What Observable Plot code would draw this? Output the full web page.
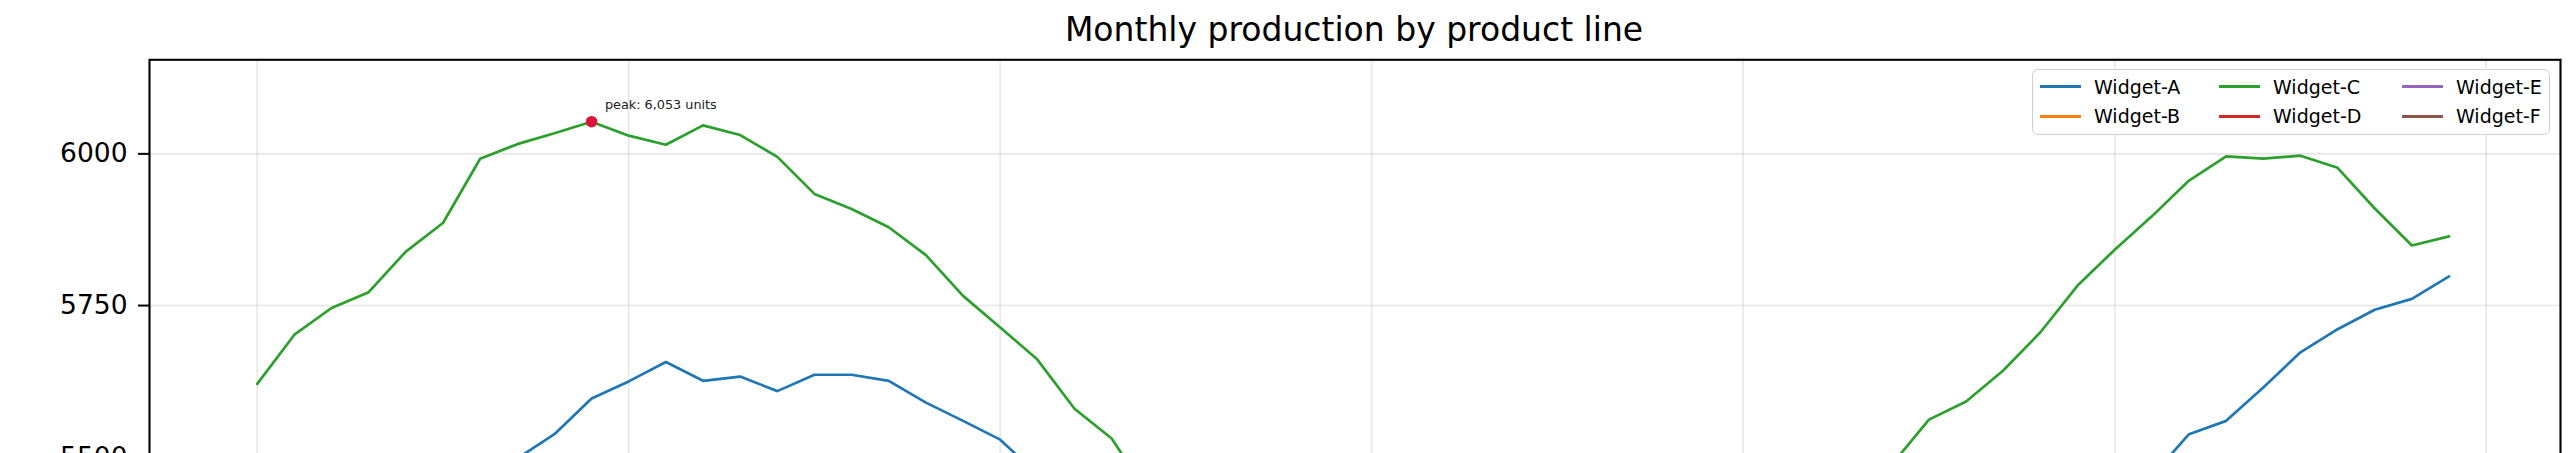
<!DOCTYPE html>
<html>
<head>
<meta charset="utf-8">
<script src="https://cdn.jsdelivr.net/npm/d3@7"></script>
<script src="https://cdn.jsdelivr.net/npm/@observablehq/plot@0.6"></script>
<style>
  html, body { margin: 0; padding: 0; background: #fff; overflow: hidden; }
  body { width: 2576px; height: 453px; position: relative; font-family: "DejaVu Sans", sans-serif; }
  #title { height: 50px; box-sizing: border-box; padding-top: 11px; line-height: 38px; font-size: 33px; color: #000; text-align: center; width: 2576px; padding-left: 132px; }
  #chart svg { display: block; }
  #legend { position: absolute; left: 2032px; top: 69px; width: 518px; height: 66px; box-sizing: border-box; border: 1.6px solid #cfcfcf; border-radius: 6px; background: rgba(255,255,255,0.85); }
  .lh { position: absolute; width: 41px; height: 2.7px; }
  .lt { position: absolute; font-size: 19px; line-height: 19px; color: #000; white-space: nowrap; }
</style>
</head>
<body>
<div id="title">Monthly production by product line</div>
<div id="chart"></div>
<div id="legend"></div>
<script>
// ---- data ----
const seriesNames = ["Widget-A", "Widget-B", "Widget-C", "Widget-D", "Widget-E", "Widget-F"];
const seriesColors = ["#1f77b4", "#ff7f0e", "#2ca02c", "#d62728", "#9467bd", "#8c564b"];
const months = Array.from({length: 60}, (_, i) => i);
const widgetA = [5290, 5310, 5335, 5360, 5400, 5430, 5465, 5498, 5538, 5597,
                 5625, 5657, 5626, 5633, 5609, 5636, 5636, 5626, 5590, 5560,
                 5529, 5472, 5420, 5370, 5315, 5260, 5210, 5170, 5130, 5100,
                 5080, 5065, 5060, 5070, 5085, 5100, 5125, 5150, 5170, 5195,
                 5215, 5240, 5265, 5290, 5310, 5330, 5355, 5375, 5395, 5420,
                 5445, 5469, 5538, 5560, 5615, 5673, 5711, 5743, 5761, 5798];
const widgetB = [4820, 4850, 4880, 4930, 4960, 5010, 5040, 5080, 5100, 5130,
                 5150, 5140, 5160, 5150, 5120, 5100, 5070, 5030, 4990, 4950,
                 4900, 4860, 4820, 4790, 4760, 4740, 4720, 4710, 4705, 4715,
                 4730, 4750, 4780, 4810, 4840, 4880, 4910, 4950, 4980, 5010,
                 5040, 5070, 5090, 5110, 5120, 5130, 5120, 5100, 5080, 5050,
                 5020, 4990, 4960, 4940, 4920, 4900, 4890, 4880, 4870, 4860];
const widgetC = [5621, 5702, 5746, 5772, 5839, 5886, 5992, 6016, 6034, 6053,
                 6030, 6015, 6047, 6031, 5995, 5934, 5909, 5879, 5833, 5766,
                 5714, 5661, 5580, 5531, 5438, 5390, 5330, 5280, 5240, 5205,
                 5180, 5165, 5160, 5170, 5190, 5215, 5245, 5280, 5310, 5345,
                 5380, 5410, 5440, 5465, 5488, 5562, 5592, 5643, 5706, 5783,
                 5842, 5897, 5956, 5996, 5992, 5997, 5977, 5910, 5849, 5864];
const widgetD = [4510, 4530, 4560, 4580, 4600, 4630, 4650, 4660, 4690, 4700,
                 4720, 4710, 4730, 4740, 4720, 4700, 4690, 4660, 4640, 4610,
                 4590, 4570, 4540, 4520, 4500, 4490, 4470, 4460, 4450, 4455,
                 4460, 4470, 4490, 4510, 4530, 4550, 4570, 4590, 4610, 4630,
                 4650, 4670, 4690, 4700, 4720, 4730, 4740, 4735, 4720, 4700,
                 4680, 4660, 4640, 4620, 4600, 4590, 4570, 4560, 4550, 4540];
const widgetE = [4300, 4320, 4310, 4340, 4360, 4350, 4380, 4400, 4390, 4410,
                 4430, 4420, 4440, 4450, 4430, 4410, 4400, 4380, 4370, 4350,
                 4330, 4320, 4300, 4290, 4270, 4260, 4250, 4240, 4235, 4240,
                 4250, 4260, 4280, 4290, 4310, 4330, 4340, 4360, 4370, 4390,
                 4400, 4420, 4430, 4440, 4450, 4460, 4455, 4440, 4430, 4410,
                 4400, 4380, 4370, 4350, 4340, 4330, 4320, 4310, 4300, 4290];
const widgetF = [4120, 4110, 4130, 4140, 4150, 4160, 4170, 4180, 4190, 4200,
                 4210, 4220, 4215, 4230, 4220, 4200, 4190, 4170, 4150, 4130,
                 4110, 4090, 4070, 4050, 4040, 4030, 4020, 4013, 4020, 4030,
                 4040, 4060, 4080, 4100, 4120, 4140, 4160, 4180, 4190, 4200,
                 4210, 4220, 4230, 4240, 4250, 4255, 4250, 4240, 4230, 4220,
                 4210, 4200, 4190, 4180, 4170, 4160, 4150, 4140, 4130, 4120];
const xTicks = [0, 10, 20, 30, 40, 50, 60];
const yGridTicks = [4000, 4250, 4500, 4750, 5000, 5250, 5500, 5750, 6000];
const yLabelTicks = [5500, 5750, 6000];

// ---- build table ----
const seriesValues = [widgetA, widgetB, widgetC, widgetD, widgetE, widgetF];
const rows = [];
seriesNames.forEach((name, s) => {
  months.forEach((m, i) => rows.push({series: name, month: m, value: seriesValues[s][i]}));
});
const peakIdx = d3.maxIndex(widgetC);
const peak = [{series: "Widget-C", month: months[peakIdx], value: widgetC[peakIdx]}];

const vmin = d3.min(rows, d => d.value), vmax = d3.max(rows, d => d.value);
const pad = 0.05 * (vmax - vmin);

const chart = Plot.plot({
  width: 2576,
  height: 1431,
  marginTop: 9.3,
  marginLeft: 149,
  marginRight: 16,
  marginBottom: 60,
  style: {fontFamily: "DejaVu Sans, sans-serif", background: "#fff", color: "#000"},
  x: {domain: [-2.9, 62], label: null, axis: null},
  y: {domain: [vmin - pad, vmax + pad], label: null},
  color: {domain: seriesNames, range: seriesColors},
  marks: [
    Plot.gridX(xTicks, {stroke: "#b0b0b0", strokeOpacity: 0.3, strokeWidth: 1.6}),
    Plot.gridY(yGridTicks, {stroke: "#b0b0b0", strokeOpacity: 0.3, strokeWidth: 1.6}),
    Plot.axisY(yLabelTicks, {tickSize: 11, tickPadding: 11, fontSize: 26.5, strokeWidth: 2, label: null, tickFormat: d3.format("d")}),
    Plot.line(rows, {x: "month", y: "value", z: "series", stroke: "series", strokeWidth: 2.7, strokeLinejoin: "miter"}),
    Plot.dot(peak, {x: "month", y: "value", r: 5.8, fill: "crimson", stroke: "none"}),
    Plot.text(peak, {x: "month", y: "value", text: d => `peak: ${d3.format(",")(d.value)} units`, textAnchor: "start", dx: 13.4, dy: -17, fontSize: 12.8, fill: "#222"}),
    Plot.frame({stroke: "#000", strokeWidth: 2.1})
  ]
});
document.getElementById("chart").appendChild(chart);

// ---- legend ----
const legend = document.getElementById("legend");
const colX = [7, 186, 369];
const rowY = [16.7, 46.3];
seriesNames.forEach((name, k) => {
  const col = Math.floor(k / 2), row = k % 2;
  const h = document.createElement("div");
  h.className = "lh";
  h.style.left = colX[col] + "px";
  h.style.top = (rowY[row] - 1.35) + "px";
  h.style.background = seriesColors[k];
  legend.appendChild(h);
  const t = document.createElement("div");
  t.className = "lt";
  t.style.left = (colX[col] + 54) + "px";
  t.style.top = (rowY[row] - 9.2) + "px";
  t.textContent = name;
  legend.appendChild(t);
});
</script>
</body>
</html>
